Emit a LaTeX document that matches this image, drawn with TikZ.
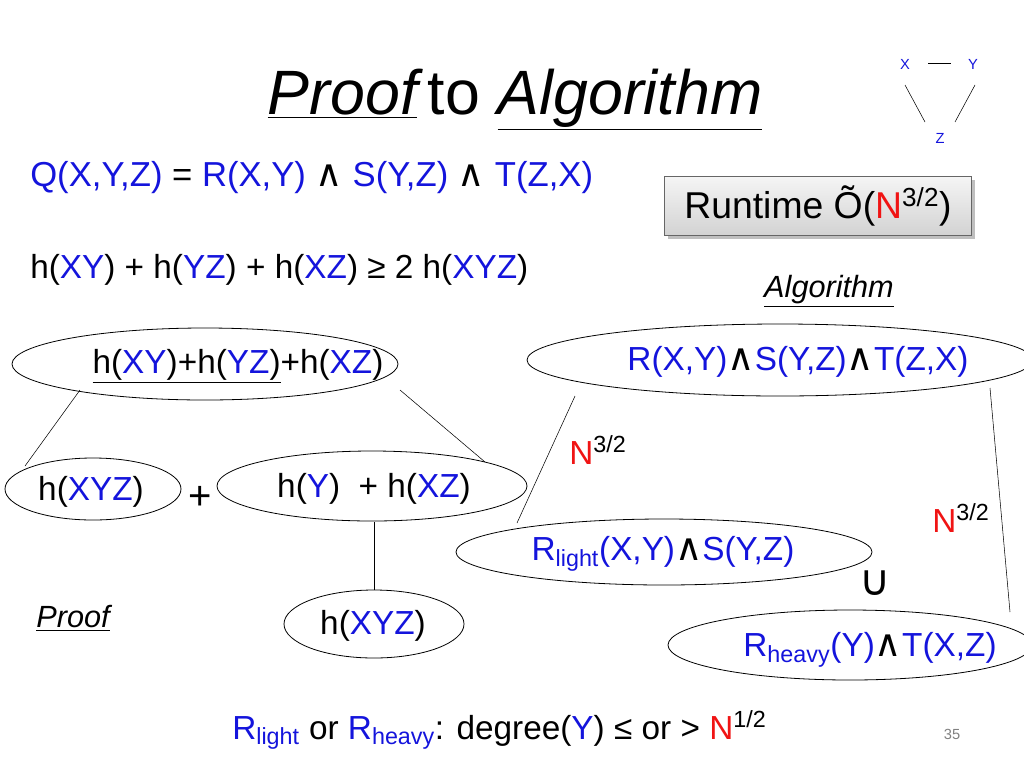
\documentclass[tikz,border=0pt]{standalone}
\usepackage{fontspec}
\setmainfont{Liberation Sans}
\newfontfamily\dv{DejaVu Sans}
\usetikzlibrary{shapes.geometric,shadows}
\definecolor{qb}{RGB}{20,20,220}
\definecolor{qr}{RGB}{240,20,20}
\newcommand{\B}[1]{\textcolor{qb}{#1}}
\newcommand{\Rd}[1]{\textcolor{qr}{#1}}
\newcommand{\wg}{{\dv\fontsize{28}{28}\selectfont ∧}}
\begin{document}
\begin{tikzpicture}[x=0.75pt,y=-0.75pt,
  txt/.style={font=\fontsize{25}{28}\selectfont,inner sep=0pt},
  ell/.style={draw,ellipse,line width=0.6pt}]
\useasboundingbox (0,0) rectangle (1024,768);
\clip (0,0) rectangle (1024,768);
\node[font=\fontsize{47}{50}\selectfont\itshape,inner sep=0pt] (title) at (515,100) {\underline{Proof}\,\upshape to \itshape\underline{Algorithm}};
\node[font=\fontsize{11}{12}\selectfont,text=qb] (gx) at (905,64) {X};
\node[font=\fontsize{11}{12}\selectfont,text=qb] (gy) at (973,64) {Y};
\node[font=\fontsize{11}{12}\selectfont,text=qb] (gz) at (940,138) {Z};
\draw (928,63) -- (951,63);
\draw (905,85) -- (925,122);
\draw (975,85) -- (955,122);
\node[txt,font=\fontsize{26}{28}\selectfont,anchor=west] (q) at (30,178) {\B{Q(X,Y,Z)} = \B{R(X,Y)} \wg{} \B{S(Y,Z)} \wg{} \B{T(Z,X)}};
\node[txt,anchor=west] (h) at (30,270) {h(\B{XY}) + h(\B{YZ}) + h(\B{XZ}) ≥ 2 h(\B{XYZ})};
\node[draw=gray!80!black,top color=gray!8,bottom color=gray!35,drop shadow,minimum width=307*0.75pt,minimum height=59*0.75pt,txt,font=\fontsize{28}{30}\selectfont] (rt) at (818,206) {Runtime Õ(\Rd{N}\textsuperscript{3/2})};
\node[txt,font=\fontsize{23}{26}\selectfont\itshape] (alg) at (829,291) {\underline{Algorithm}};
\node[txt,font=\fontsize{23}{26}\selectfont\itshape] (prf) at (73,618) {\underline{Proof}};
% ellipses
\draw[line width=0.6pt] (205,364) ellipse [x radius=193, y radius=36];
\node[txt] (e1) at (238,366) {\underline{h(\B{XY})+h(\B{YZ})}+h(\B{XZ})};
\draw[line width=0.6pt] (780,360) ellipse [x radius=253, y radius=36];
\node[txt] (e2) at (798,362) {\B{R(X,Y)}\wg\B{S(Y,Z)}\wg\B{T(Z,X)}};
\draw[line width=0.6pt] (93,489) ellipse [x radius=88, y radius=31];
\node[txt] (e3) at (91,492) {h(\B{XYZ})};
\draw[line width=0.6pt] (372,486) ellipse [x radius=155, y radius=35];
\node[txt] (e4) at (374,489) {h(\B{Y})\; + h(\B{XZ})};
\node[txt,font=\fontsize{30}{32}\selectfont] (plus) at (200,498) {+};
\draw[line width=0.6pt] (374,624) ellipse [x radius=90, y radius=34];
\node[txt] (e5) at (373,626) {h(\B{XYZ})};
\draw[line width=0.6pt] (664,552) ellipse [x radius=208, y radius=33];
\node[txt] (e6) at (663,554) {\B{R\textsubscript{light}(X,Y)}\wg\B{S(Y,Z)}};
\draw[line width=0.6pt] (850,645) ellipse [x radius=182, y radius=35];
\node[txt] (e7) at (870,650) {\B{R\textsubscript{heavy}(Y)}\wg\B{T(X,Z)}};
\node[txt,font=\dv\fontsize{32}{34}\selectfont] (cup) at (875,583) {∪};
\node[txt] (n1) at (598,450) {\Rd{N}\textsuperscript{3/2}};
\node[txt] (n2) at (961,518) {\Rd{N}\textsuperscript{3/2}};
% connectors
\coordinate (a1) at (80,390); \coordinate (a2) at (25,466);
\coordinate (b1) at (400,390); \coordinate (b2) at (485,462);
\coordinate (c1) at (374,522); \coordinate (c2) at (374,590);
\coordinate (d1) at (575,396); \coordinate (d2) at (517,523);
\coordinate (f1) at (990,388); \coordinate (f2) at (1010,612);
\draw (a1) -- (a2); \draw (b1) -- (b2); \draw (c1) -- (c2);
\draw (d1) -- (d2); \draw (f1) -- (f2);
\node[txt,anchor=west] (foot) at (232,730) {\B{R}\textsubscript{\B{light}} or \B{R}\textsubscript{\B{heavy}}: degree(\B{Y}) ≤ or > \Rd{N}\textsuperscript{1/2}};
\node[font=\fontsize{11}{12}\selectfont,text=gray] (pg) at (952,734) {35};
\end{tikzpicture}
\end{document}
